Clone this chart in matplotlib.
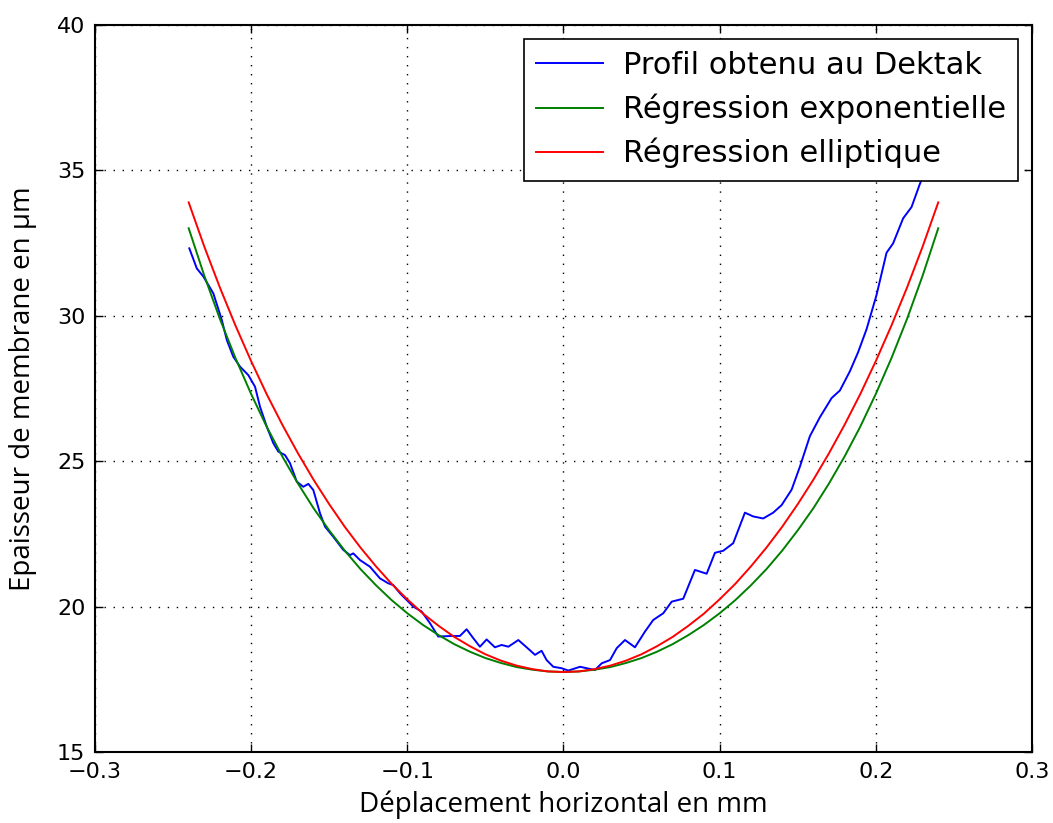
import numpy as np
from matplotlib import pyplot as plt

profil_x = [-0.2396, -0.2348, -0.2306, -0.2242, -0.2188, -0.2156, -0.2114, -0.2071,
            -0.2018, -0.1975, -0.1943, -0.1900, -0.1858, -0.1826, -0.1783, -0.1751,
            -0.1708, -0.1666, -0.1634, -0.1602, -0.1559, -0.1527, -0.1474, -0.1410,
            -0.1367, -0.1346, -0.1303, -0.1239, -0.1175, -0.1122, -0.1090, -0.1047,
            -0.0962, -0.0908, -0.0855, -0.0802, -0.0716, -0.0663, -0.0620, -0.0577,
            -0.0535, -0.0492, -0.0439, -0.0396, -0.0353, -0.0289, -0.0236, -0.0182,
            -0.0140, -0.0108, -0.0065, -0.0012, 0.0031, 0.0106, 0.0149, 0.0202,
            0.0245, 0.0298, 0.0341, 0.0394, 0.0458, 0.0522, 0.0575, 0.0639,
            0.0693, 0.0767, 0.0842, 0.0917, 0.0970, 0.1023, 0.1087, 0.1162,
            0.1215, 0.1279, 0.1343, 0.1397, 0.1461, 0.1514, 0.1578, 0.1642,
            0.1717, 0.1770, 0.1834, 0.1887, 0.1941, 0.2005, 0.2069, 0.2111,
            0.2175, 0.2229, 0.2282, 0.2340, 0.2398]
profil_y = [32.32, 31.63, 31.35, 30.77, 29.86, 29.17, 28.59, 28.25,
            27.96, 27.56, 26.87, 26.19, 25.62, 25.33, 25.21, 24.93,
            24.30, 24.12, 24.22, 24.01, 23.21, 22.75, 22.40, 21.95,
            21.77, 21.83, 21.60, 21.37, 20.97, 20.80, 20.74, 20.46,
            20.00, 19.83, 19.43, 18.97, 18.99, 18.99, 19.22, 18.91,
            18.62, 18.87, 18.60, 18.68, 18.62, 18.85, 18.60, 18.34,
            18.48, 18.16, 17.93, 17.88, 17.80, 17.93, 17.88, 17.82,
            18.05, 18.16, 18.57, 18.85, 18.60, 19.14, 19.54, 19.77,
            20.17, 20.27, 21.26, 21.13, 21.85, 21.92, 22.18, 23.23,
            23.10, 23.03, 23.23, 23.49, 24.02, 24.81, 25.86, 26.51,
            27.17, 27.43, 28.09, 28.75, 29.54, 30.72, 32.17, 32.49,
            33.35, 33.74, 34.53, 35.30, 36.00]

# regressions (courbes symetriques)
reg_x = [-0.24, -0.23, -0.22, -0.21, -0.20, -0.19, -0.18, -0.17, -0.16, -0.15,
         -0.14, -0.13, -0.12, -0.11, -0.10, -0.09, -0.08, -0.07, -0.06, -0.05,
         -0.04, -0.03, -0.02, -0.01, 0.0, 0.01, 0.02, 0.03, 0.04, 0.05,
         0.06, 0.07, 0.08, 0.09, 0.10, 0.11, 0.12, 0.13, 0.14, 0.15,
         0.16, 0.17, 0.18, 0.19, 0.20, 0.21, 0.22, 0.23, 0.24]
expo_y = [33.01, 31.38, 29.89, 28.54, 27.31, 26.18, 25.16, 24.23, 23.38, 22.62,
          21.92, 21.29, 20.73, 20.22, 19.77, 19.37, 19.02, 18.71, 18.45, 18.23,
          18.06, 17.92, 17.83, 17.77, 17.75, 17.77, 17.83, 17.92, 18.06, 18.23,
          18.45, 18.71, 19.02, 19.37, 19.77, 20.22, 20.73, 21.29, 21.92, 22.62,
          23.38, 24.23, 25.16, 26.18, 27.31, 28.54, 29.89, 31.38, 33.01]
ellip_y = [33.90, 32.38, 30.97, 29.66, 28.44, 27.30, 26.25, 25.27, 24.36, 23.52,
           22.74, 22.03, 21.38, 20.78, 20.25, 19.76, 19.34, 18.96, 18.64, 18.36,
           18.14, 17.97, 17.85, 17.77, 17.75, 17.77, 17.85, 17.97, 18.14, 18.36,
           18.64, 18.96, 19.34, 19.76, 20.25, 20.78, 21.38, 22.03, 22.74, 23.52,
           24.36, 25.27, 26.25, 27.30, 28.44, 29.66, 30.97, 32.38, 33.90]

fig = plt.figure(figsize=(10.53, 8.23), dpi=100, facecolor='white')
ax = fig.add_axes([0.0902, 0.0863, 0.8898, 0.8833])

ax.plot(profil_x, profil_y, color='b', lw=1.4, label='Profil obtenu au Dektak')
ax.plot(reg_x, expo_y, color='g', lw=1.4, label='Régression exponentielle')
ax.plot(reg_x, ellip_y, color='r', lw=1.4, label='Régression elliptique')

ax.set_xlim(-0.3, 0.3)
ax.set_ylim(15, 40)
ax.set_xticks([-0.3, -0.2, -0.1, 0.0, 0.1, 0.2, 0.3])
ax.set_yticks([15, 20, 25, 30, 35, 40])
ax.grid(True, color='black', linestyle=(0, (1, 5.5)), linewidth=1.0)
ax.tick_params(direction='in', length=6, width=1, labelsize=16, pad=7,
               top=True, right=True)
for s in ax.spines.values():
    s.set_linewidth(1.5)

ax.set_xlabel('Déplacement horizontal en mm', fontsize=20, family='Open Sans', labelpad=6)
ax.set_ylabel('Epaisseur de membrane en µm', fontsize=20, family='Open Sans', labelpad=14)

leg = ax.legend(loc='upper right', fontsize=22, fancybox=False, framealpha=1,
                edgecolor='black', handlelength=2.2, handletextpad=0.65,
                labelspacing=0.45, borderpad=0.4, borderaxespad=0.45)
leg.get_frame().set_linewidth(1.2)

plt.savefig('out.png', dpi=100, facecolor='white')
